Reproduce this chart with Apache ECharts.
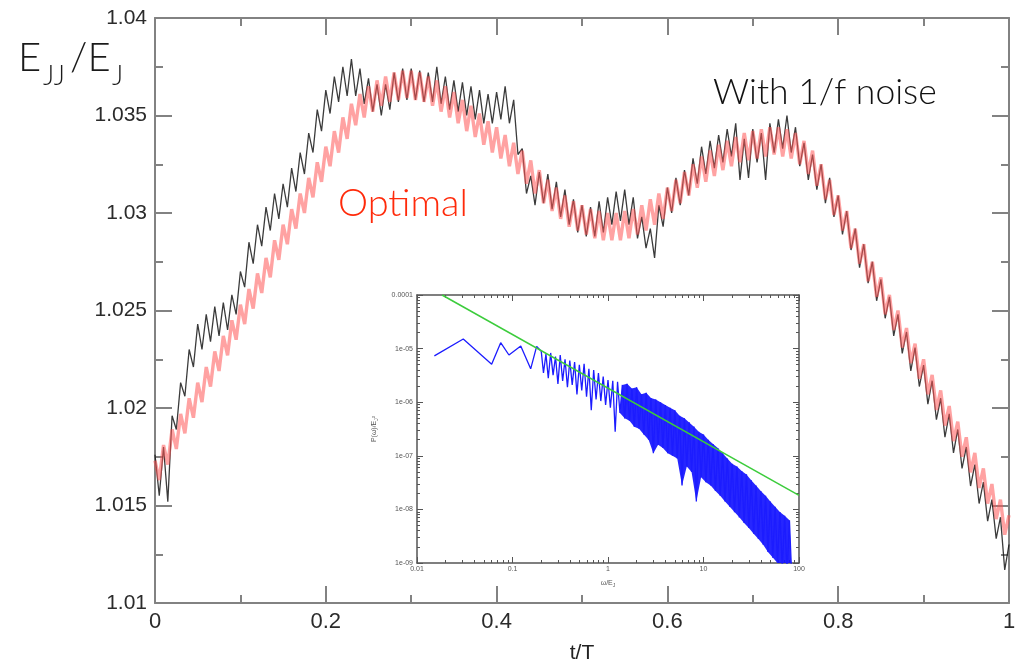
<!DOCTYPE html>
<html>
<head>
<meta charset="utf-8">
<script src="https://cdn.jsdelivr.net/npm/echarts/dist/echarts.min.js"></script>
<style>html,body{margin:0;padding:0;background:#fff}#c{width:1021px;height:669px}</style>
</head>
<body>
<div id="c"></div>
<script>
// sampling step of t/T for both main-plot curves
const T_STEP = 0.005;

// E_JJ/E_J, optimal protocol (red) at t = 0, 0.005, ... 1
const optimal = [
1.0173,1.0163,1.0181,1.0171,1.0189,1.0179,1.0197,1.0187,1.0205,1.0195,
1.0213,1.0203,1.0221,1.0211,1.0229,1.0219,1.0237,1.0227,1.0245,1.0235,
1.0253,1.0243,1.0261,1.0251,1.0269,1.0259,1.0277,1.0267,1.0286,1.0276,
1.0294,1.0284,1.0302,1.0292,1.0310,1.0300,1.0318,1.0308,1.0326,1.0316,
1.0334,1.0324,1.0342,1.0331,1.0349,1.0338,1.0356,1.0345,1.0361,1.0349,
1.0365,1.0352,1.0368,1.0355,1.0370,1.0357,1.0372,1.0358,1.0373,1.0359,
1.0373,1.0358,1.0372,1.0357,1.0370,1.0355,1.0368,1.0352,1.0365,1.0349,
1.0362,1.0346,1.0358,1.0342,1.0355,1.0339,1.0351,1.0335,1.0347,1.0331,
1.0344,1.0328,1.0340,1.0324,1.0336,1.0320,1.0332,1.0315,1.0327,1.0310,
1.0322,1.0305,1.0317,1.0301,1.0313,1.0297,1.0309,1.0293,1.0306,1.0291,
1.0304,1.0289,1.0302,1.0287,1.0301,1.0286,1.0300,1.0286,1.0300,1.0286,
1.0301,1.0287,1.0302,1.0289,1.0304,1.0291,1.0307,1.0294,1.0310,1.0297,
1.0313,1.0301,1.0317,1.0305,1.0321,1.0309,1.0325,1.0313,1.0329,1.0316,
1.0332,1.0319,1.0335,1.0322,1.0337,1.0324,1.0339,1.0326,1.0341,1.0327,
1.0342,1.0328,1.0343,1.0329,1.0344,1.0330,1.0344,1.0329,1.0343,1.0328,
1.0341,1.0325,1.0337,1.0320,1.0332,1.0314,1.0325,1.0307,1.0317,1.0299,
1.0309,1.0291,1.0301,1.0282,1.0292,1.0274,1.0284,1.0265,1.0275,1.0257,
1.0267,1.0248,1.0258,1.0240,1.0250,1.0231,1.0241,1.0223,1.0233,1.0215,
1.0225,1.0207,1.0217,1.0199,1.0209,1.0191,1.0201,1.0183,1.0193,1.0175,
1.0185,1.0167,1.0177,1.0159,1.0169,1.0151,1.0161,1.0143,1.0153,1.0135,
1.0145
];

// E_JJ/E_J with 1/f noise (black), same sampling
const withNoise = [
1.0176,1.0155,1.0180,1.0152,1.0196,1.0189,1.0213,1.0206,1.0230,1.0221,
1.0243,1.0230,1.0248,1.0234,1.0252,1.0237,1.0254,1.0240,1.0258,1.0248,
1.0270,1.0262,1.0285,1.0274,1.0294,1.0283,1.0303,1.0291,1.0310,1.0297,
1.0315,1.0303,1.0323,1.0311,1.0331,1.0320,1.0341,1.0331,1.0353,1.0342,
1.0363,1.0351,1.0370,1.0357,1.0375,1.0360,1.0379,1.0360,1.0374,1.0356,
1.0369,1.0352,1.0366,1.0350,1.0366,1.0353,1.0372,1.0357,1.0374,1.0358,
1.0374,1.0358,1.0373,1.0357,1.0372,1.0357,1.0375,1.0356,1.0370,1.0353,
1.0368,1.0352,1.0367,1.0350,1.0365,1.0348,1.0363,1.0346,1.0361,1.0346,
1.0362,1.0348,1.0365,1.0346,1.0358,1.0330,1.0333,1.0310,1.0319,1.0304,
1.0321,1.0305,1.0320,1.0302,1.0316,1.0298,1.0312,1.0294,1.0307,1.0290,
1.0304,1.0288,1.0303,1.0288,1.0306,1.0290,1.0308,1.0294,1.0311,1.0296,
1.0312,1.0294,1.0308,1.0287,1.0298,1.0282,1.0292,1.0277,1.0304,1.0293,
1.0313,1.0300,1.0318,1.0304,1.0322,1.0309,1.0328,1.0315,1.0334,1.0320,
1.0337,1.0323,1.0340,1.0326,1.0343,1.0329,1.0346,1.0317,1.0338,1.0318,
1.0343,1.0326,1.0341,1.0317,1.0346,1.0331,1.0348,1.0333,1.0350,1.0331,
1.0344,1.0324,1.0336,1.0317,1.0330,1.0312,1.0325,1.0305,1.0318,1.0298,
1.0309,1.0289,1.0301,1.0281,1.0292,1.0272,1.0284,1.0264,1.0275,1.0255,
1.0266,1.0246,1.0257,1.0237,1.0248,1.0228,1.0239,1.0219,1.0231,1.0211,
1.0222,1.0202,1.0214,1.0194,1.0205,1.0185,1.0197,1.0177,1.0189,1.0169,
1.0180,1.0160,1.0171,1.0151,1.0162,1.0142,1.0153,1.0133,1.0144,1.0117,
1.0130
];

// inset: noise power spectrum (blue), frequency omega/E_J and power.
// From 0.2 on, entries alternate between the upper and the lower edge of the noisy band.
const specFreq = [
0.0152,0.0305,0.0605,0.0752,0.0918,0.122,0.155,0.179,
0.200,0.211,0.224,0.237,0.251,0.266,0.282,0.299,0.316,0.335,
0.355,0.376,0.398,0.422,0.447,0.473,0.501,0.531,0.562,0.596,
0.631,0.668,0.708,0.750,0.794,0.841,0.891,0.944,1.000,1.059,
1.122,1.189,1.259,1.334,1.413,1.496,1.585,1.679,1.778,1.884,
1.995,2.113,2.239,2.371,2.512,2.661,2.818,2.985,3.162,3.350,
3.548,3.758,3.981,4.217,4.467,4.732,5.012,5.309,5.623,5.957,
6.310,6.683,7.079,7.499,7.943,8.414,8.913,9.441,10.00,10.59,
11.22,11.89,12.59,13.34,14.13,14.96,15.85,16.79,17.78,18.84,
19.95,21.13,22.39,23.71,25.12,26.61,28.18,29.85,31.62,33.50,
35.48,37.58,39.81,42.17,44.67,47.32,50.12,53.09,56.23,59.57,
63.10,66.83,70.79,74.99,79.43,84.14
];
const specPow = [
7.3e-6,1.51e-5,5.1e-6,1.29e-5,7.6e-6,1.12e-5,4.2e-6,1.1e-5,
8.9e-6,3.5e-6,7.9e-6,2.8e-6,8.3e-6,3.2e-6,7.1e-6,2.2e-6,7.6e-6,2.5e-6,
6.3e-6,1.9e-6,6.0e-6,2.1e-6,5.6e-6,1.4e-6,5.0e-6,1.66e-6,5.2e-6,1.26e-6,
4.2e-6,7.1e-7,4.0e-6,1.12e-6,3.5e-6,1.05e-6,3.0e-6,8.9e-7,2.6e-6,7.9e-7,
2.5e-6,2.8e-7,2.4e-6,6.3e-7,2.1e-6,5.0e-7,2.2e-6,4.5e-7,1.8e-6,3.5e-7,
1.9e-6,3.2e-7,1.4e-6,2.5e-7,1.5e-6,2.0e-7,1.2e-6,1.12e-7,1.12e-6,1.6e-7,
1.0e-6,1.4e-7,8.9e-7,1.12e-7,7.9e-7,1.0e-7,7.1e-7,8.9e-8,5.6e-7,2.8e-8,
5.0e-7,6.3e-8,4.2e-7,5.0e-8,3.5e-7,1.4e-8,2.8e-7,4.0e-8,2.5e-7,3.2e-8,
2.0e-7,2.8e-8,1.66e-7,2.2e-8,1.4e-7,1.8e-8,1.12e-7,1.4e-8,8.9e-8,1.12e-8,
7.1e-8,8.9e-9,6.3e-8,7.1e-9,5.2e-8,5.6e-9,4.5e-8,4.5e-9,3.5e-8,3.5e-9,
2.8e-8,2.8e-9,2.2e-8,2.2e-9,1.8e-8,1.6e-9,1.4e-8,1.26e-9,1.12e-8,1.0e-9,
8.9e-9,8e-10,7.6e-9,6.3e-10,6.3e-9,5e-10
];
const BAND_START = 8;       // first index of the alternating upper/lower band samples
const BAND_FILL_FROM = 1.3; // the band is solid above this frequency

// inset: 1/f reference line (green), end points
const fitFreq = [0.0183, 100];
const fitPow = [1e-4, 1.83e-8];

// inset tick label text
const insetYLabels = {'-4':'0.0001','-5':'1e-05','-6':'1e-06','-7':'1e-07','-8':'1e-08','-9':'1e-09'};

const chart = echarts.init(document.getElementById('c'), null, {renderer:'canvas'});
const G = '#828282';
const IG = '#555';
const FONT = 'Liberation Sans, Arial, sans-serif';
const LIGHT = 'Lato, Liberation Sans, sans-serif';

function mainAxisCommon(extra) {
  return Object.assign({
    gridIndex: 0, type: 'value',
    axisLine: {show: true, onZero: false, lineStyle: {color: G, width: 2}},
    axisTick: {show: true, inside: true, length: 17, lineStyle: {color: G, width: 2}},
    minorTick: {show: true, splitNumber: 2, length: 8, lineStyle: {color: G, width: 2}},
    splitLine: {show: false}, minorSplitLine: {show: false}
  }, extra);
}
function insetAxisCommon(extra) {
  return Object.assign({
    gridIndex: 1, type: 'log', logBase: 10,
    axisLine: {show: true, onZero: false, lineStyle: {color: IG, width: 1.5}},
    axisTick: {show: true, inside: true, length: 6, lineStyle: {color: IG, width: 1}},
    minorTick: {show: true, splitNumber: 9, length: 3, lineStyle: {color: IG, width: 1}},
    splitLine: {show: false}, minorSplitLine: {show: false}
  }, extra);
}

const spectrumData = specFreq.map((f, i) => [f, specPow[i]]);

const option = {
  animation: false,
  backgroundColor: '#fff',
  grid: [
    {left: 155, top: 18, width: 854, height: 595},
    {left: 417, top: 295, width: 382, height: 268, show: true, backgroundColor: '#fff', borderWidth: 0}
  ],
  xAxis: [
    mainAxisCommon({min: 0, max: 1, interval: 0.2, position: 'bottom',
      axisLabel: {fontSize: 22, color: '#2b2b2b', fontFamily: FONT, margin: 8},
      name: 't/T', nameLocation: 'middle', nameGap: 40,
      nameTextStyle: {fontSize: 21, color: '#222', fontFamily: FONT}}),
    mainAxisCommon({min: 0, max: 1, interval: 0.2, position: 'top', axisLabel: {show: false}}),
    insetAxisCommon({min: 0.01, max: 100, position: 'bottom',
      axisLabel: {fontSize: 7, color: '#555', fontFamily: FONT, margin: 3,
        formatter: v => String(+v.toPrecision(3))},
      name: '{a|ω/E}{s|J}', nameLocation: 'middle', nameGap: 16,
      nameTextStyle: {rich: {a: {fontSize: 7, color: '#555', fontFamily: FONT}, s: {fontSize: 5, color: '#555', fontFamily: FONT, padding: [4, 0, 0, 0]}}}}),
    insetAxisCommon({min: 0.01, max: 100, position: 'top', axisLabel: {show: false}})
  ],
  yAxis: [
    mainAxisCommon({min: 1.01, max: 1.04, interval: 0.005, position: 'left',
      axisLabel: {fontSize: 21, color: '#2b2b2b', fontFamily: FONT, margin: 8}}),
    mainAxisCommon({min: 1.01, max: 1.04, interval: 0.005, position: 'right', axisLabel: {show: false}}),
    insetAxisCommon({min: 1e-9, max: 1e-4, position: 'left',
      axisLabel: {fontSize: 7, color: '#555', fontFamily: FONT, margin: 4,
        formatter: v => insetYLabels[String(Math.round(Math.log10(v)))] || ''},
      name: '{a|P(ω)/E}{s|J}{a|²}', nameLocation: 'middle', nameGap: 38,
      nameTextStyle: {rich: {a: {fontSize: 7, color: '#555', fontFamily: FONT}, s: {fontSize: 5, color: '#555', fontFamily: FONT, padding: [4, 0, 0, 0]}}}}),
    insetAxisCommon({min: 1e-9, max: 1e-4, position: 'right', axisLabel: {show: false}})
  ],
  series: [
    {type: 'line', name: 'With 1/f noise', xAxisIndex: 0, yAxisIndex: 0, showSymbol: false, symbol: 'none',
     data: withNoise.map((v, i) => [i * T_STEP, v]),
     lineStyle: {color: 'rgba(25,25,25,0.85)', width: 1.3}, z: 2},
    {type: 'line', name: 'Optimal', xAxisIndex: 0, yAxisIndex: 0, showSymbol: false, symbol: 'none',
     data: optimal.map((v, i) => [i * T_STEP, v]),
     lineStyle: {color: 'rgba(255,85,85,0.55)', width: 3.4}, z: 3},
    {type: 'custom', name: 'spectrum band', xAxisIndex: 2, yAxisIndex: 2, clip: true, z: 9,
     data: spectrumData,
     renderItem: function (params, api) {
       if (params.dataIndex !== 0) return null;
       const upper = [], lower = [];
       for (let i = BAND_START; i < specFreq.length; i++) {
         if (specFreq[i] < BAND_FILL_FROM) continue;
         const p = api.coord([specFreq[i], specPow[i]]);
         if ((i - BAND_START) % 2 === 0) upper.push(p); else lower.push(p);
       }
       return {type: 'polygon', shape: {points: upper.concat(lower.reverse())},
               style: {fill: 'rgba(20,20,255,0.92)', stroke: null}};
     }},
    {type: 'line', name: 'spectrum', xAxisIndex: 2, yAxisIndex: 2, showSymbol: false, symbol: 'none',
     data: spectrumData,
     lineStyle: {color: '#1c1cff', width: 1.3}, z: 10},
    {type: 'line', name: '1/f', xAxisIndex: 2, yAxisIndex: 2, showSymbol: false, symbol: 'none',
     data: fitFreq.map((f, i) => [f, fitPow[i]]),
     lineStyle: {color: '#3ccc3c', width: 1.5}, z: 11}
  ],
  graphic: [
    {type: 'text', style: {text: 'E', x: 18, y: 58, font: '300 40px ' + LIGHT, fill: '#1a1a1a', align: 'left', verticalAlign: 'middle'}},
    {type: 'text', style: {text: 'JJ', x: 43, y: 76, font: '300 27px ' + LIGHT, fill: '#1a1a1a', align: 'left', verticalAlign: 'middle'}},
    {type: 'text', style: {text: '/E', x: 70, y: 58, font: '300 40px ' + LIGHT, fill: '#1a1a1a', align: 'left', verticalAlign: 'middle'}},
    {type: 'text', style: {text: 'J', x: 112, y: 76, font: '300 27px ' + LIGHT, fill: '#1a1a1a', align: 'left', verticalAlign: 'middle'}},
    {type: 'text', style: {text: 'Optimal', x: 338, y: 204, font: '300 38px ' + LIGHT, fill: '#ff2a0a', align: 'left', verticalAlign: 'middle'}},
    {type: 'text', style: {text: 'With 1/f noise', x: 713, y: 93, font: '300 35.5px ' + LIGHT, fill: '#111', align: 'left', verticalAlign: 'middle'}}
  ]
};
chart.setOption(option);
</script>
</body>
</html>
